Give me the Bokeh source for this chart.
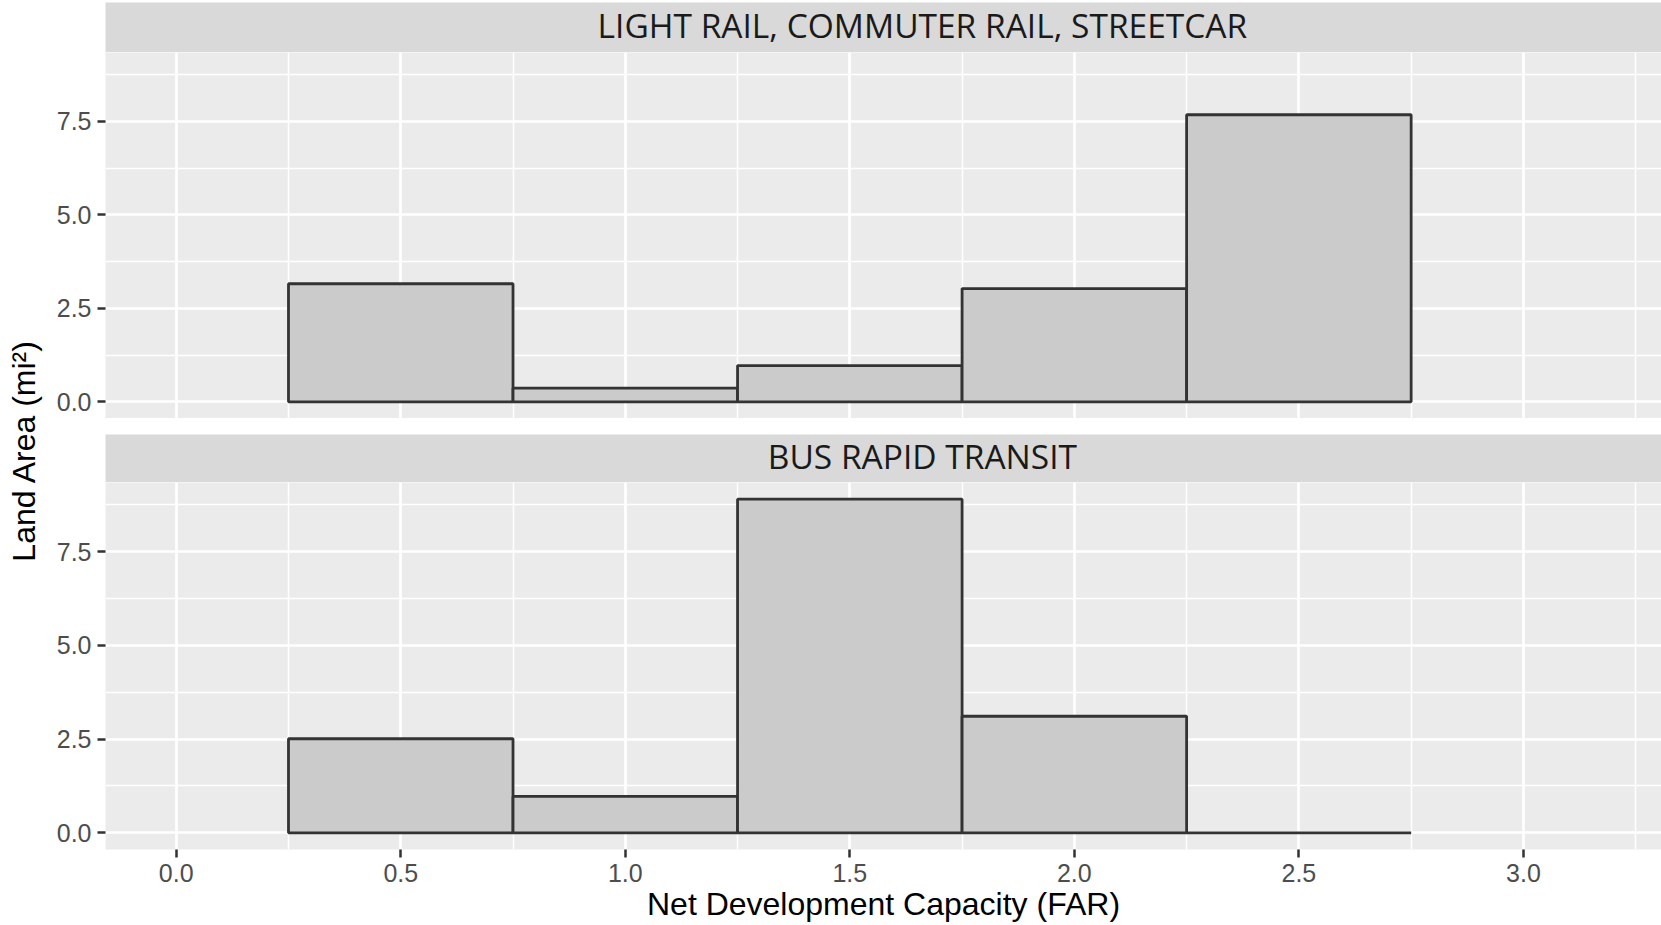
from math import pi

from bokeh.core.properties import value
from bokeh.embed import file_html
from bokeh.layouts import column, row
from bokeh.models import ColumnDataSource, FixedTicker, PrintfTickFormatter, Range1d
from bokeh.plotting import figure
from bokeh.resources import INLINE

# Histogram bins of net development capacity (FAR)
bin_left = [0.25, 0.75, 1.25, 1.75, 2.25]
bin_right = [0.75, 1.25, 1.75, 2.25, 2.75]

# Land area (sq. mi) falling in each bin, per transit mode
rail_area = [3.16, 0.37, 0.97, 3.03, 7.68]
brt_area = [2.51, 0.97, 8.90, 3.11, 0.0]

panel_titles = ["LIGHT RAIL, COMMUTER RAIL, STREETCAR", "BUS RAPID TRANSIT"]

x_ticks = [0.0, 0.5, 1.0, 1.5, 2.0, 2.5, 3.0]
x_minor = [0.25, 0.75, 1.25, 1.75, 2.25, 2.75, 3.25]
y_ticks = [0.0, 2.5, 5.0, 7.5]
y_minor = [1.25, 3.75, 6.25, 8.75]

x_limits = (0.0, 3.15)
x_title = "Net Development Capacity (FAR)"
y_title = "Land Area (mi\u00b2)"

# shared scales with 5% expansion on each side
x_pad = 0.05 * (x_limits[1] - x_limits[0])
y_max = max(rail_area + brt_area)
y_pad = 0.05 * y_max
x_range = Range1d(x_limits[0] - x_pad, x_limits[1] + x_pad)
y_range = Range1d(-y_pad, y_max + y_pad)

PANEL_BG = "#EBEBEB"
STRIP_BG = "#D9D9D9"
TICK_COLOR = "#4D4D4D"
DARK = "#333333"
COL_W = 1616
LEFT = 60


def make_strip(text, height, top_pad):
    s = figure(width=COL_W, height=height, x_range=Range1d(0, 1), y_range=Range1d(0, 1),
               x_axis_type=None, y_axis_type=None, output_backend="svg",
               toolbar_location=None, min_border_left=LEFT, min_border_right=0,
               min_border_top=top_pad, min_border_bottom=0)
    s.background_fill_color = STRIP_BG
    s.border_fill_color = "white"
    s.outline_line_color = None
    s.text(x=[0.525], y=[0.56], text=[text], text_align="center", text_baseline="middle",
           text_font=value("Open Sans"), text_font_size="33.5px", text_color="#1A1A1A")
    return s


def make_panel(values, height, show_x):
    p = figure(width=COL_W, height=height, x_range=x_range, y_range=y_range,
               x_axis_location="below" if show_x else None, output_backend="svg",
               toolbar_location=None, min_border_left=LEFT, min_border_right=0,
               min_border_top=0, min_border_bottom=76 if show_x else 0)
    p.background_fill_color = PANEL_BG
    p.border_fill_color = "white"
    p.outline_line_color = None

    src = ColumnDataSource(dict(left=bin_left, right=bin_right, top=values))
    p.quad(left="left", right="right", bottom=0, top="top", source=src,
           fill_color="#CBCBCB", line_color=DARK, line_width=2.8)

    xt = FixedTicker(ticks=x_ticks, minor_ticks=x_minor)
    yt = FixedTicker(ticks=y_ticks, minor_ticks=y_minor)
    p.xgrid.ticker = xt
    p.ygrid.ticker = yt
    for g in (p.xgrid, p.ygrid):
        g.grid_line_color = "white"
        g.grid_line_width = 2.7
        g.minor_grid_line_color = "white"
        g.minor_grid_line_width = 1.5

    axes = [p.yaxis[0]]
    p.yaxis.ticker = yt
    p.yaxis.formatter = PrintfTickFormatter(format="%.1f")
    if show_x:
        p.xaxis.ticker = xt
        p.xaxis.formatter = PrintfTickFormatter(format="%.1f")
        p.xaxis.axis_label = x_title
        p.xaxis.axis_label_text_font = "Liberation Sans"
        p.xaxis.axis_label_text_font_size = "32px"
        p.xaxis.axis_label_text_font_style = "normal"
        p.xaxis.axis_label_text_color = "black"
        p.xaxis.axis_label_standoff = 1
        axes.append(p.xaxis[0])
    for ax in axes:
        ax.axis_line_color = None
        ax.major_tick_line_color = DARK
        ax.major_tick_line_width = 2.5
        ax.major_tick_out = 8
        ax.major_tick_in = 0
        ax.minor_tick_line_color = None
        ax.major_label_text_font = "Liberation Sans"
        ax.major_label_text_font_size = "25px"
        ax.major_label_text_color = TICK_COLOR
        ax.major_label_standoff = 6
    return p


strip1 = make_strip(panel_titles[0], 52, 2)
panel1 = make_panel(rail_area, 366, False)
strip2 = make_strip(panel_titles[1], 64, 16)
panel2 = make_panel(brt_area, 443, True)

# shared y-axis title spanning both panels
ylab = figure(width=45, height=925, x_range=Range1d(0, 45), y_range=Range1d(0, 925),
              x_axis_type=None, y_axis_type=None, output_backend="svg",
              toolbar_location=None, min_border=0)
ylab.outline_line_color = None
ylab.background_fill_color = "white"
ylab.border_fill_color = "white"
ylab.text(x=[23], y=[475], text=[y_title], angle=pi / 2, text_align="center",
          text_baseline="middle", text_font=value("Liberation Sans"),
          text_font_size="32px", text_color="black")

layout = row(ylab, column(strip1, panel1, strip2, panel2, spacing=0), spacing=0)

with open("out.html", "w") as f:
    f.write(file_html(layout, INLINE))
